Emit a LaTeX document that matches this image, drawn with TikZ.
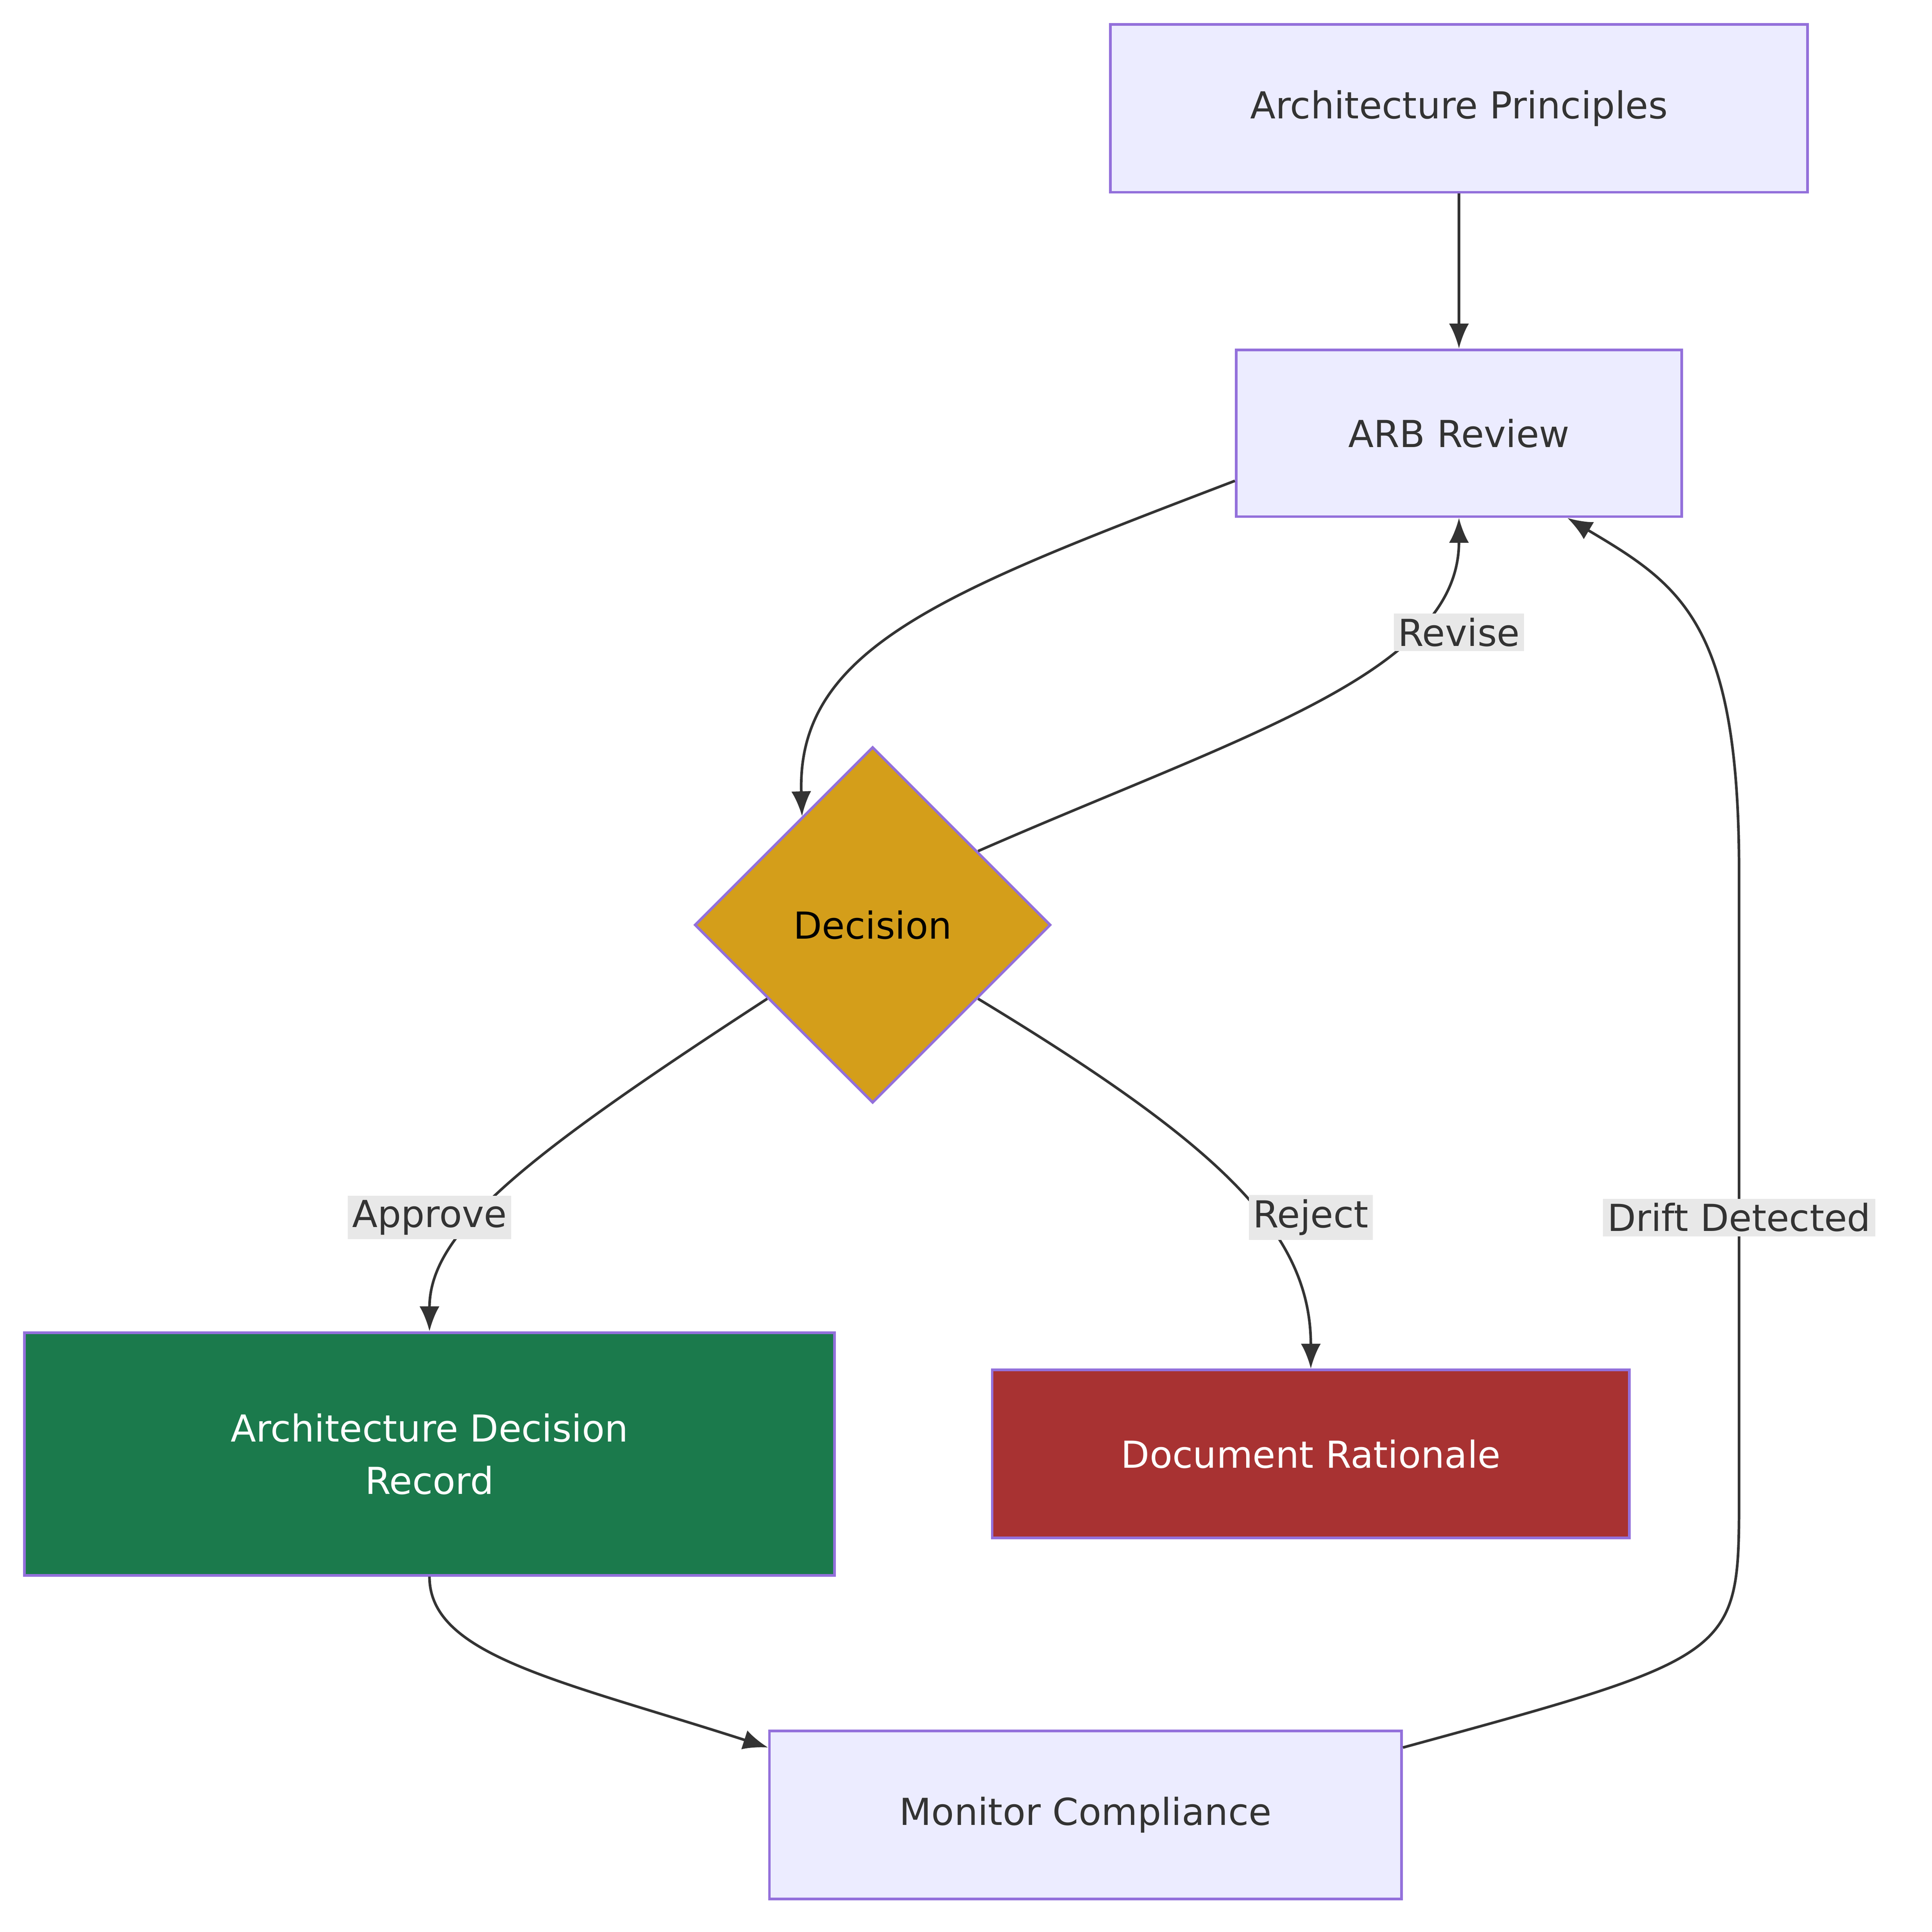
\documentclass[tikz,border=0pt]{standalone}
\usepackage{fontspec}
\setmainfont{DejaVu Sans}
\usetikzlibrary{arrows.meta,shapes.geometric,positioning,calc}
\definecolor{boxfill}{HTML}{ECECFF}
\definecolor{boxline}{HTML}{9370DB}
\definecolor{decfill}{HTML}{D49E1A}
\definecolor{adrfill}{HTML}{1B7A4C}
\definecolor{rejfill}{HTML}{A83232}
\definecolor{edgecol}{HTML}{333333}
\definecolor{lblfill}{HTML}{E8E8E8}
\tikzset{
    box/.style={draw=boxline, fill=boxfill, line width=1.2pt, text=edgecol, align=center, inner sep=0pt},
    flow/.style={-{Latex[length=4mm, width=3.2mm]}, line width=1.2pt, edgecol},
    lbl/.style={fill=lblfill, text=edgecol, inner sep=2pt}
}
\begin{document}
\begin{tikzpicture}[x=0.02cm, y=-0.02cm, font=\fontsize{17}{24}\selectfont]
\useasboundingbox (0,0) rectangle (1552,1552);
\node[box, minimum width=11.2cm, minimum height=2.7cm] (principles) at (1172,87) {Architecture Principles};
\node[box, minimum width=7.16cm, minimum height=2.68cm] (arb) at (1172,348) {ARB Review};
\node[diamond, draw=boxline, fill=decfill, line width=1.2pt, minimum width=5.72cm, minimum height=5.72cm, inner sep=0pt] (decision) at (701,743) {Decision};
\node[box, fill=adrfill, text=white, minimum width=13.02cm, minimum height=3.9cm] (adr) at (345,1168) {Architecture Decision\\Record};
\node[box, fill=rejfill, text=white, minimum width=10.24cm, minimum height=2.7cm] (rationale) at (1053,1168) {Document Rationale};
\node[box, minimum width=10.16cm, minimum height=2.7cm] (monitor) at (872,1458) {Monitor Compliance};

% main flow
\draw[flow] (principles) -- (arb);
\draw[flow] (arb.-168) .. controls (760,475) and (640,520) .. (decision.123);
\draw[flow] (decision.35) .. controls (1000,590) and (1172,540) .. (arb.south);
\draw[flow] (decision.215) .. controls (420,930) and (345,990) .. (adr.north);
\draw[flow] (decision.-35) .. controls (980,920) and (1053,990) .. (rationale.north);
\draw[flow] (adr.south) .. controls (345,1330) and (450,1350) .. (monitor.168);
% feedback loop
\draw[flow] (monitor.12) .. controls (1397,1330) .. (1397,1200) -- (1397,700) .. controls (1397,500) and (1350,470) .. (arb.-38);

% edge labels
\node[lbl] (revise) at (1172,508) {Revise};
\node[lbl] (approve) at (345,978) {Approve};
\node[lbl] (reject) at (1053,978) {Reject};
\node[lbl] (drift) at (1397,978) {Drift Detected};
\end{tikzpicture}
\end{document}
